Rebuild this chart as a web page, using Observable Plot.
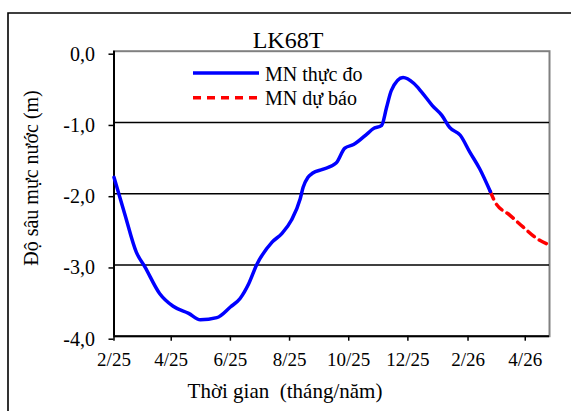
<!DOCTYPE html>
<html><head><meta charset="utf-8">
<script src="https://cdn.jsdelivr.net/npm/d3@7"></script>
<script src="https://cdn.jsdelivr.net/npm/@observablehq/plot@0.6"></script>
<style>
body{margin:0;background:#fff;}
#wrap{position:relative;width:571px;height:411px;overflow:hidden;font-family:'Liberation Serif','Times New Roman',Tinos,'DejaVu Serif',serif;color:#000;background:#fff;}
#plot{position:absolute;left:0;top:0;}
#over{position:absolute;left:0;top:0;pointer-events:none;}
#wrap text{font-family:'Liberation Serif','Times New Roman',Tinos,'DejaVu Serif',serif !important;}
</style></head><body>
<div id="wrap">
<div id="plot"></div>
<svg id="over" width="571" height="411"></svg>
</div>
<script>
// ---- data ----
const chartTitle = "LK68T";
const yTitle = "Độ sâu mực nước (m)";
const xTitle = "Thời gian  (tháng/năm)";
const seriesNames = ["MN thực đo", "MN dự báo"];

const obsDates = ["2025-02-01","2025-02-12","2025-02-24","2025-03-05","2025-03-20","2025-04-03","2025-04-19","2025-05-01","2025-05-18","2025-06-01","2025-06-11","2025-06-20","2025-06-28","2025-07-14","2025-07-24","2025-08-03","2025-08-12","2025-08-15","2025-08-20","2025-08-25","2025-09-04","2025-09-18","2025-09-27","2025-10-06","2025-10-20","2025-10-26","2025-11-04","2025-11-09","2025-11-14","2025-11-26","2025-12-07","2025-12-15","2025-12-26","2026-01-05","2026-01-13","2026-01-24","2026-02-03","2026-02-13","2026-02-24"];
const obsValues = [-1.77,-2.28,-2.82,-3.03,-3.40,-3.58,-3.68,-3.77,-3.74,-3.59,-3.47,-3.26,-3.00,-2.68,-2.56,-2.37,-2.07,-1.91,-1.77,-1.71,-1.66,-1.57,-1.36,-1.31,-1.16,-1.09,-1.04,-0.79,-0.55,-0.37,-0.45,-0.57,-0.76,-0.90,-1.07,-1.18,-1.42,-1.65,-1.97];

const fcDates = ["2026-02-24","2026-03-01","2026-03-16","2026-03-30","2026-04-13","2026-04-26"];
const fcValues = [-1.97,-2.12,-2.30,-2.47,-2.63,-2.72];

const xDomain = ["2025-02-01","2026-04-26"];
const tickDates = ["2025-02-01","2025-04-01","2025-06-01","2025-08-01","2025-10-01","2025-12-01","2026-02-01","2026-04-01"];
const tickLabels = ["2/25","4/25","6/25","8/25","10/25","12/25","2/26","4/26"];
const yTicks = [0,-1,-2,-3,-4];
const gridValues = [-1,-2,-3];
const yDomain = [-4, 0];

// ---- build ----
const observed = obsDates.map((d,i)=>({date:new Date(d+"T00:00:00Z"), value:obsValues[i]}));
const forecast = fcDates.map((d,i)=>({date:new Date(d+"T00:00:00Z"), value:fcValues[i]}));
const tDates = tickDates.map(d=>new Date(d+"T00:00:00Z"));
const xD = xDomain.map(d=>new Date(d+"T00:00:00Z"));

const font = "'Liberation Serif','Times New Roman',Tinos,'DejaVu Serif',serif";
const chart = Plot.plot({
  width:571, height:411,
  marginLeft:113.5, marginRight:22, marginTop:50.7, marginBottom:75.3,
  style:{fontFamily:font, fontSize:"19px", color:"#000", background:"transparent", overflow:"visible"},
  x:{type:"utc", domain:xD},
  y:{domain:yDomain},
  marks:[
    Plot.frame({stroke:"#808080", strokeWidth:2}),
    Plot.ruleY(gridValues, {stroke:"#000", strokeWidth:1.5}),
    Plot.ruleX([xD[0]], {stroke:"#000", strokeWidth:2}),
    Plot.ruleY([yDomain[0]], {stroke:"#000", strokeWidth:2}),
    Plot.line(forecast, {x:"date", y:"value", stroke:"#ff0000", strokeWidth:3.5, strokeDasharray:"8,6", curve:"monotone-x"}),
    Plot.line(observed, {x:"date", y:"value", stroke:"#0000ff", strokeWidth:3.5, curve:"monotone-x"}),
    Plot.axisX({ticks:tDates, tickFormat:d=>tickLabels[tDates.findIndex(t=>+t===+d)], tickSize:5, tickPadding:11, label:null, fontSize:19, stroke:"#000", strokeWidth:1.5}),
    Plot.axisY({ticks:yTicks, tickFormat:d=>d.toFixed(1).replace(".",","), tickSize:5, tickPadding:14, label:null, fontSize:20, dy:3, stroke:"#000", strokeWidth:1.5})
  ]
});
document.getElementById("plot").appendChild(chart);

// ---- overlay: frame, title, legend, axis titles ----
const ns = "http://www.w3.org/2000/svg";
const over = document.getElementById("over");
function el(tag, attrs, text){
  const e = document.createElementNS(ns, tag);
  for (const k in attrs) e.setAttribute(k, attrs[k]);
  if (text != null) e.textContent = text;
  over.appendChild(e);
  return e;
}
el("path", {d:"M8,420 V13 H580", fill:"none", stroke:"#000", "stroke-width":1.6});
el("text", {x:288, y:48, "text-anchor":"middle", "font-size":24}, chartTitle);
el("line", {x1:193, x2:259, y1:73, y2:73, stroke:"#0000ff", "stroke-width":3.5});
el("text", {x:265, y:80.5, "font-size":20}, seriesNames[0]);
el("line", {x1:193, x2:259, y1:97.7, y2:97.7, stroke:"#ff0000", "stroke-width":3.5, "stroke-dasharray":"8,6"});
el("text", {x:265, y:104.5, "font-size":20}, seriesNames[1]);
el("text", {transform:"translate(38,178) rotate(-90)", "text-anchor":"middle", "font-size":20}, yTitle);
el("text", {x:285, y:398, "text-anchor":"middle", "font-size":21, style:"white-space:pre"}, xTitle);
</script>
</body></html>
